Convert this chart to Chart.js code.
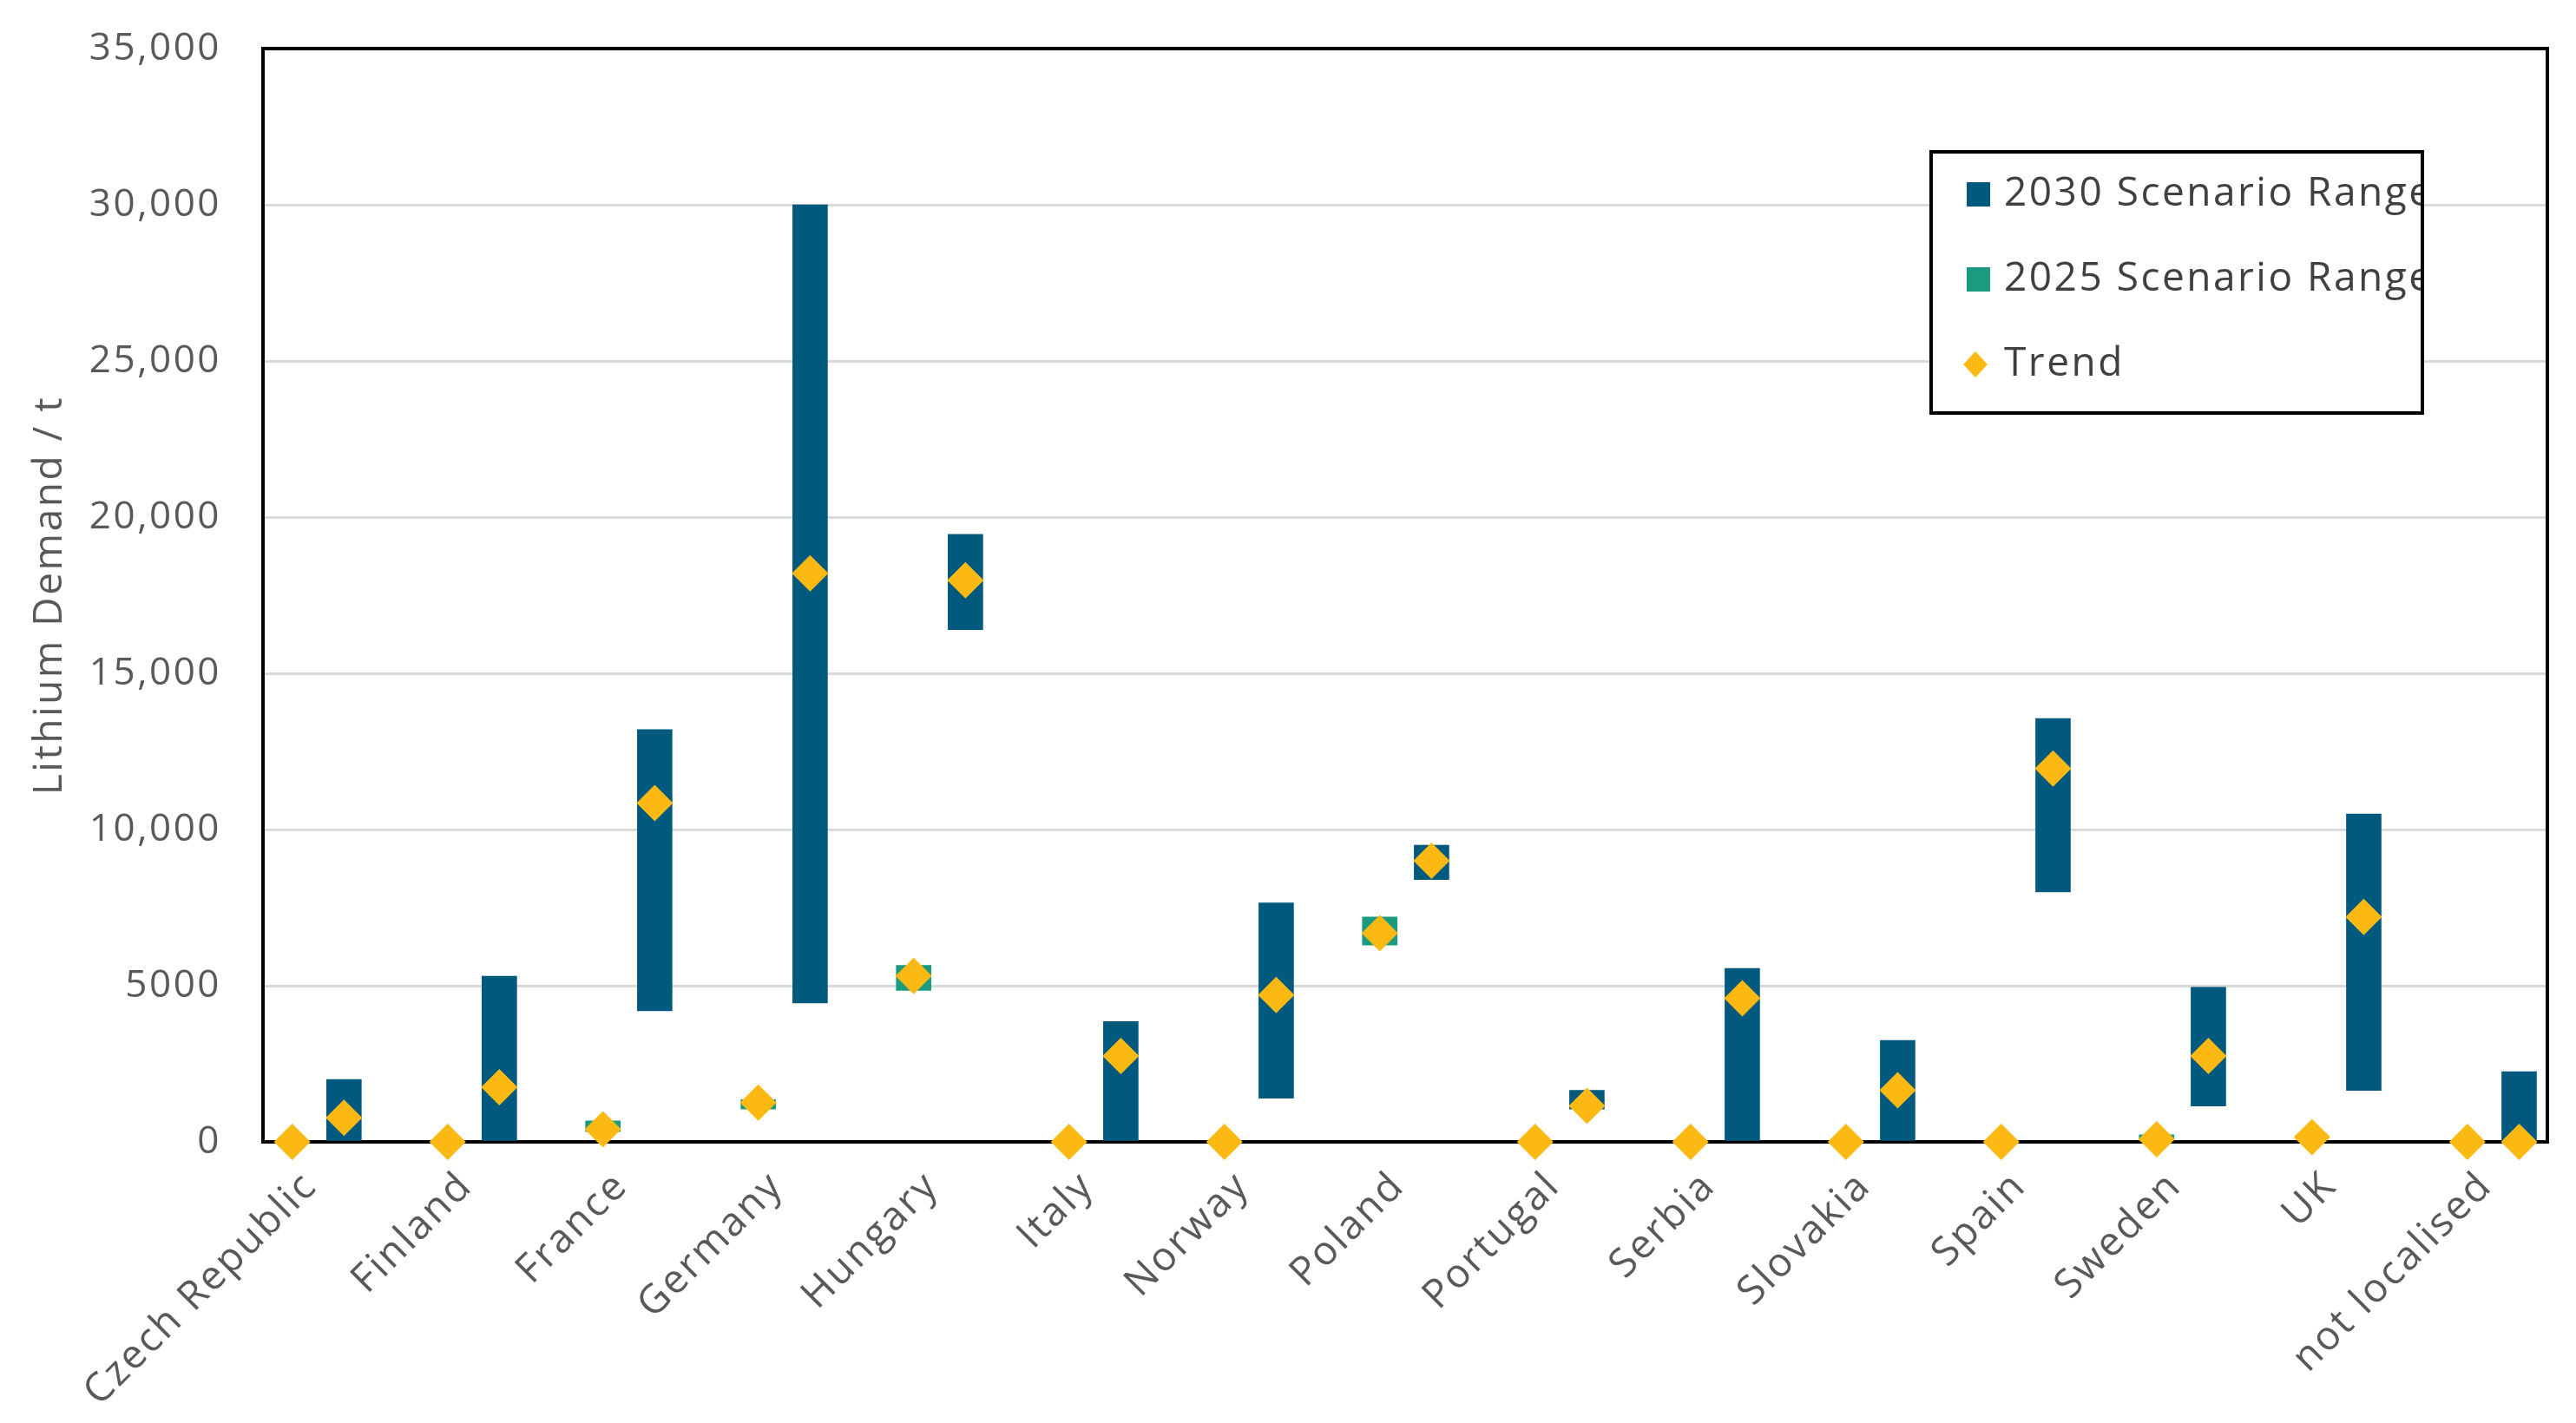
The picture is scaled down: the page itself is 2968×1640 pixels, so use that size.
<!DOCTYPE html>
<html>
<head>
<meta charset="utf-8">
<script src="https://cdn.jsdelivr.net/npm/chart.js@4.4.1/dist/chart.umd.min.js"></script>
<style>
html, body { margin: 0; padding: 0; background: #fff; }
#wrap { width: 2968px; height: 1640px; }
</style>
</head>
<body>
<div id="wrap"><canvas id="myCanvas"></canvas></div>
<script>
// values (t of lithium)
const countries = ['Czech Republic', 'Finland', 'France', 'Germany', 'Hungary', 'Italy', 'Norway',
   'Poland', 'Portugal', 'Serbia', 'Slovakia', 'Spain', 'Sweden', 'UK', 'not localised'];
const range2030Low = [0, 0, 4200, 4450, 16400, 0, 1400, 8400, 1050, 0, 0, 8000, 1150, 1650, 0];
const range2030High = [2000, 5300, 13200, 30000, 19450, 3850, 7650, 9500, 1650, 5550, 3250, 13550, 4950, 10500, 2250];
const range2025Low = [0, 0, 330, 1050, 4850, 0, 0, 6300, 0, 0, 0, 0, 50, 0, 0];
const range2025High = [0, 0, 670, 1350, 5650, 0, 0, 7200, 0, 0, 0, 0, 225, 0, 0];
const trend2025 = [0, 0, 400, 1260, 5310, 0, 0, 6680, 0, 0, 0, 0, 80, 150, 0];
const trend2030 = [770, 1750, 10850, 18200, 17980, 2750, 4700, 9000, 1150, 4600, 1650, 11950, 2750, 7200, 0];
const yTickLabels = ['0', '5000', '10,000', '15,000', '20,000', '25,000', '30,000', '35,000'];

const BLUE = '#015A7D';
const GREEN = '#1A9B7F';
const GOLD = '#FDB913';
const GREY = '#595959';

// 2025 sits on the category, 2030 a third to the right
const OFF2030 = 1 / 3;

const bars2030 = countries.map((c, i) => ({ x: i + OFF2030, y: [range2030Low[i], range2030High[i]] }));
const bars2025 = countries.map((c, i) => ({ x: i, y: [range2025Low[i], range2025High[i]] }));
const trendPts = countries.map((c, i) => ({ x: i, y: trend2025[i] }))
   .concat(countries.map((c, i) => ({ x: i + OFF2030, y: trend2030[i] })));

Chart.defaults.font.family = "'Open Sans', 'DejaVu Sans', sans-serif";

// the original text is a bit spread out
const spacing = {
   id: 'spacing',
   beforeDraw(chart) { chart.ctx.letterSpacing = '2.5px'; }
};

const framePlugin = {
   id: 'frame',
   beforeDatasetsDraw(chart) {
      const { ctx, chartArea: a } = chart;
      ctx.save();
      ctx.strokeStyle = '#000';
      ctx.lineWidth = 4;
      ctx.strokeRect(a.left, a.top, a.right - a.left, a.bottom - a.top);
      ctx.restore();
   }
};

const boxLegend = {
   id: 'boxLegend',
   afterDraw(chart) {
      const ctx = chart.ctx;
      const box = { l: 2225, t: 175, r: 2791, b: 476 };
      ctx.save();
      ctx.fillStyle = '#fff';
      ctx.fillRect(box.l, box.t, box.r - box.l, box.b - box.t);
      ctx.beginPath();
      ctx.rect(box.l, box.t, box.r - box.l, box.b - box.t);
      ctx.clip();
      const ds = chart.data.datasets;
      const items = [
         { text: ds[1].label, color: ds[1].backgroundColor, diamond: false, y: 224 },
         { text: ds[2].label, color: ds[2].backgroundColor, diamond: false, y: 322 },
         { text: ds[0].label, color: ds[0].backgroundColor, diamond: true, y: 420 }
      ];
      ctx.font = "46px 'Open Sans', sans-serif";
      ctx.letterSpacing = '2.5px';
      ctx.textBaseline = 'middle';
      items.forEach(it => {
         ctx.fillStyle = it.color;
         if (it.diamond) {
            ctx.beginPath();
            ctx.moveTo(2276, it.y - 15);
            ctx.lineTo(2290, it.y);
            ctx.lineTo(2276, it.y + 15);
            ctx.lineTo(2262, it.y);
            ctx.closePath();
            ctx.fill();
         } else {
            ctx.fillRect(2266, it.y - 14, 27, 28);
         }
         ctx.fillStyle = '#404040';
         ctx.fillText(it.text, 2309, it.y);
      });
      ctx.restore();
      ctx.save();
      ctx.strokeStyle = '#000';
      ctx.lineWidth = 4;
      ctx.strokeRect(box.l, box.t, box.r - box.l, box.b - box.t);
      ctx.restore();
   }
};

const ctx = document.getElementById('myCanvas').getContext('2d');

new Chart(ctx, {
   type: 'bar',
   data: {
      datasets: [
         {
            type: 'scatter',
            label: 'Trend',
            data: trendPts,
            pointStyle: 'rectRot',
            pointRadius: 21,
            pointHoverRadius: 21,
            backgroundColor: GOLD,
            borderWidth: 0,
            order: 0,
            clip: false
         },
         {
            label: '2030 Scenario Range',
            data: bars2030,
            backgroundColor: BLUE,
            barThickness: 40,
            grouped: false,
            order: 1
         },
         {
            label: '2025 Scenario Range',
            data: bars2025,
            backgroundColor: GREEN,
            barThickness: 40,
            grouped: false,
            order: 2
         }
      ]
   },
   options: {
      responsive: true,
      maintainAspectRatio: false,
      animation: false,
      layout: { padding: { top: 56, right: 33, left: 0, bottom: 0 } },
      plugins: {
         legend: { display: false },
         tooltip: { enabled: false }
      },
      scales: {
         x: {
            type: 'linear',
            min: -0.188,
            max: 14.515,
            offset: false,
            grid: { display: false },
            border: { display: false },
            afterBuildTicks: s => { s.ticks = countries.map((c, i) => ({ value: i + 0.12 })); },
            afterFit: s => { s.height = 324; },
            ticks: {
               autoSkip: false,
               maxRotation: 45,
               minRotation: 45,
               padding: 16,
               color: GREY,
               font: { size: 46 },
               callback: (v, idx) => countries[idx]
            }
         },
         y: {
            min: 0,
            max: 35000,
            afterFit: s => { s.width = 303; s.paddingTop = 0; s.paddingBottom = 0; },
            grid: { color: '#D9D9D9', lineWidth: 3, drawTicks: false },
            border: { display: false },
            ticks: {
               stepSize: 5000,
               padding: 48,
               color: GREY,
               font: { size: 44 },
               callback: v => yTickLabels[Math.round(v / 5000)]
            },
            title: {
               display: true,
               text: 'Lithium Demand / t',
               color: GREY,
               font: { size: 46 },
               padding: { top: 30, bottom: 0 }
            }
         }
      }
   },
   plugins: [spacing, framePlugin, boxLegend]
});
</script>
</body>
</html>
